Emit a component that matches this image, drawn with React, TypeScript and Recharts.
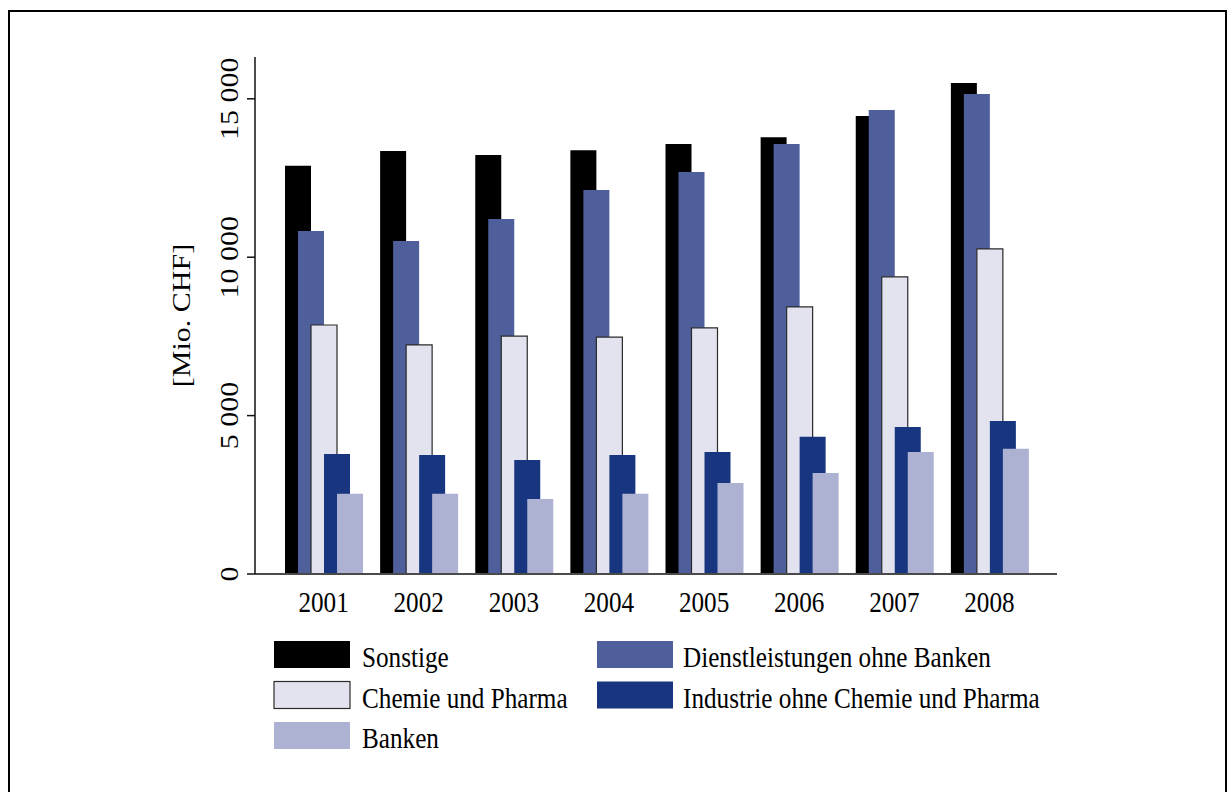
import { Bar, BarChart, Label, Legend, XAxis, YAxis } from 'recharts';

const years = ['2001', '2002', '2003', '2004', '2005', '2006', '2007', '2008'];
const sonstige = [12890, 13350, 13230, 13380, 13570, 13790, 14460, 15500];
const dienstleistungen = [10830, 10510, 11210, 12120, 12690, 13570, 14650, 15150];
const chemie = [7860, 7230, 7510, 7480, 7770, 8430, 9380, 10260];
const industrie = [3790, 3760, 3600, 3760, 3850, 4330, 4640, 4830];
const banken = [2530, 2530, 2370, 2530, 2870, 3190, 3850, 3950];
const yTicks = [0, 5000, 10000, 15000];

const series = [
    { key: 'sonstige', name: 'Sonstige', fill: '#000000', stroke: 'none' },
    { key: 'dienst', name: 'Dienstleistungen ohne Banken', fill: '#4E5F9C', stroke: 'none' },
    { key: 'chemie', name: 'Chemie und Pharma', fill: '#E3E3EF', stroke: '#2a2a2a' },
    { key: 'industrie', name: 'Industrie ohne Chemie und Pharma', fill: '#17367F', stroke: 'none' },
    { key: 'banken', name: 'Banken', fill: '#ADB1D2', stroke: 'none' },
];

const data = years.map((year, i) => ({
    year,
    sonstige: sonstige[i],
    dienst: dienstleistungen[i],
    chemie: chemie[i],
    industrie: industrie[i],
    banken: banken[i],
}));

const FONT = '"Liberation Serif", "Times New Roman", serif';
const SQUEEZE = 0.84;

const formatThousands = (v: number) => (v >= 1000 ? `${Math.floor(v / 1000)} ${String(v % 1000).padStart(3, '0')}` : String(v));

const YTick = (props: any) => {
    const { x, y, payload } = props;
    return (
        <text
            transform={`translate(${x - 7},${y}) scale(${SQUEEZE},1) rotate(-90)`}
            textAnchor="middle"
            fontFamily={FONT}
            fontSize={30}
            fill="#000"
        >
            {formatThousands(payload.value)}
        </text>
    );
};

const XTick = (props: any) => {
    const { x, y, payload } = props;
    return (
        <text
            transform={`translate(${x},${y + 36}) scale(${SQUEEZE},1)`}
            textAnchor="middle"
            fontFamily={FONT}
            fontSize={30}
            fill="#000"
        >
            {payload.value}
        </text>
    );
};

const YLabel = (props: any) => {
    const { viewBox } = props;
    const cy = viewBox.y + viewBox.height / 2;
    return (
        <text
            transform={`translate(190,${cy}) scale(${SQUEEZE},1) rotate(-90)`}
            textAnchor="middle"
            fontFamily={FONT}
            fontSize={30}
            fill="#000"
        >
            [Mio. CHF]
        </text>
    );
};

const LegendBox = () => (
    <svg width={800} height={130} style={{ display: 'block' }}>
        {series.map((s, i) => {
            const col = i % 2;
            const row = Math.floor(i / 2);
            const sx = col === 0 ? 14 : 337;
            const tx = col === 0 ? 102 : 423;
            const sy = 11 + row * 40.5;
            return (
                <g key={s.key}>
                    <rect x={sx} y={sy} width={76} height={27} fill={s.fill} stroke={s.stroke} strokeWidth={1.2} />
                    <text
                        transform={`translate(${tx},${sy + 26}) scale(${SQUEEZE},1)`}
                        fontFamily={FONT}
                        fontSize={30}
                        fill="#000"
                    >
                        {s.name}
                    </text>
                </g>
            );
        })}
    </svg>
);

export default function App() {
    return (
        <div style={{ position: 'fixed', left: 0, top: 0, width: 1227, height: 792, background: '#fff', overflow: 'hidden' }}>
            <div
                style={{
                    position: 'absolute',
                    left: 8,
                    top: 10,
                    width: 1219,
                    height: 800,
                    border: '2px solid #000',
                    boxSizing: 'border-box',
                }}
            />
            <div style={{ position: 'absolute', left: 0, top: 0 }}>
                <BarChart
                    width={1227}
                    height={792}
                    data={data}
                    barSize={26}
                    barGap={-13}
                    margin={{ top: 57, right: 170, left: 195, bottom: 188 }}
                >
                    <XAxis
                        dataKey="year"
                        height={30}
                        padding={{ left: 21, right: 20 }}
                        tickLine={false}
                        tickSize={0}
                        axisLine={{ stroke: '#4a4a4a', strokeWidth: 2 }}
                        tick={<XTick />}
                        interval={0}
                    />
                    <YAxis
                        width={60}
                        domain={[0, 16320]}
                        ticks={yTicks}
                        tickSize={8}
                        axisLine={{ stroke: '#111', strokeWidth: 1.5 }}
                        tickLine={{ stroke: '#111', strokeWidth: 1.5 }}
                        tick={<YTick />}
                        allowDataOverflow
                    >
                        <Label content={<YLabel />} />
                    </YAxis>
                    <Legend
                        layout="horizontal"
                        verticalAlign="middle"
                        align="center"
                        wrapperStyle={{ left: 260, top: 630, width: 800, height: 130 }}
                        content={<LegendBox />}
                    />
                    {series.map((s) => (
                        <Bar
                            key={s.key}
                            dataKey={s.key}
                            name={s.name}
                            fill={s.fill}
                            stroke={s.stroke}
                            strokeWidth={s.stroke === 'none' ? 0 : 1.2}
                            isAnimationActive={false}
                        />
                    ))}
                </BarChart>
            </div>
        </div>
    );
}
